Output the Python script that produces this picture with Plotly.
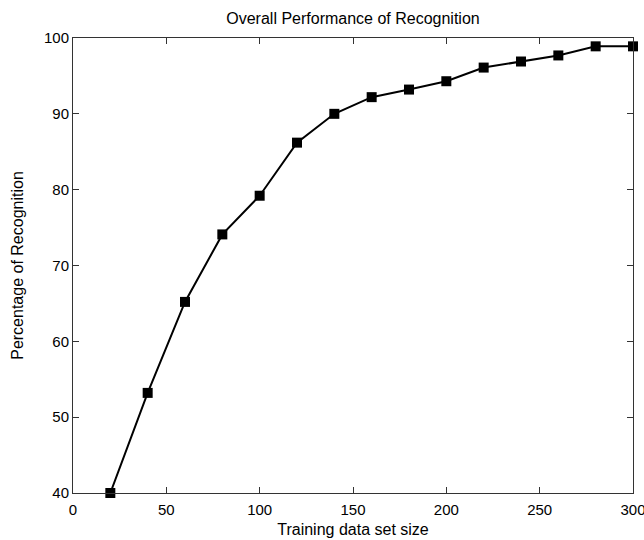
import plotly.graph_objects as go

training_size = [20, 40, 60, 80, 100, 120, 140, 160, 180, 200, 220, 240, 260, 280, 300]
recognition_pct = [40.0, 53.2, 65.2, 74.1, 79.2, 86.2, 90.0, 92.2, 93.2, 94.3, 96.1, 96.9, 97.7, 98.9, 98.9]

x_ticks = [0, 50, 100, 150, 200, 250, 300]
y_ticks = [40, 50, 60, 70, 80, 90, 100]

FONT = "Liberation Sans, Arial, sans-serif"

fig = go.Figure()
fig.add_trace(go.Scatter(
    x=training_size,
    y=recognition_pct,
    mode="lines+markers",
    line=dict(color="black", width=2),
    marker=dict(symbol="square", size=10, color="black"),
    cliponaxis=False,
    showlegend=False,
))

axis_common = dict(
    showline=True,
    linecolor="#333333",
    linewidth=1,
    mirror="ticks",
    ticks="inside",
    ticklen=6,
    tickcolor="#333333",
    showgrid=False,
    zeroline=False,
    automargin=False,
    ticklabeloverflow="allow",
    tickfont=dict(family=FONT, size=15, color="black"),
)

fig.update_layout(
    width=644,
    height=540,
    margin=dict(l=73, r=11, t=38, b=47),
    paper_bgcolor="white",
    plot_bgcolor="white",
    title=dict(
        text="Overall Performance of Recognition",
        x=(73 + 280) / 644,
        xanchor="center",
        y=1 - 18 / 540,
        yanchor="middle",
        font=dict(family=FONT, size=16, color="black"),
    ),
    xaxis=dict(
        range=[0, 300],
        tickvals=x_ticks,
        ticklabelstandoff=3,
        title=dict(text="Training data set size", standoff=6,
                   font=dict(family=FONT, size=16, color="black")),
        **axis_common,
    ),
    yaxis=dict(
        range=[40, 100],
        tickvals=y_ticks,
        title=dict(text="Percentage of Recognition", standoff=16,
                   font=dict(family=FONT, size=16, color="black")),
        **axis_common,
    ),
)

fig.write_html(
    "out.html",
    config={"displayModeBar": False},
    post_script="document.body.style.margin='0';document.body.style.padding='0';",
)
